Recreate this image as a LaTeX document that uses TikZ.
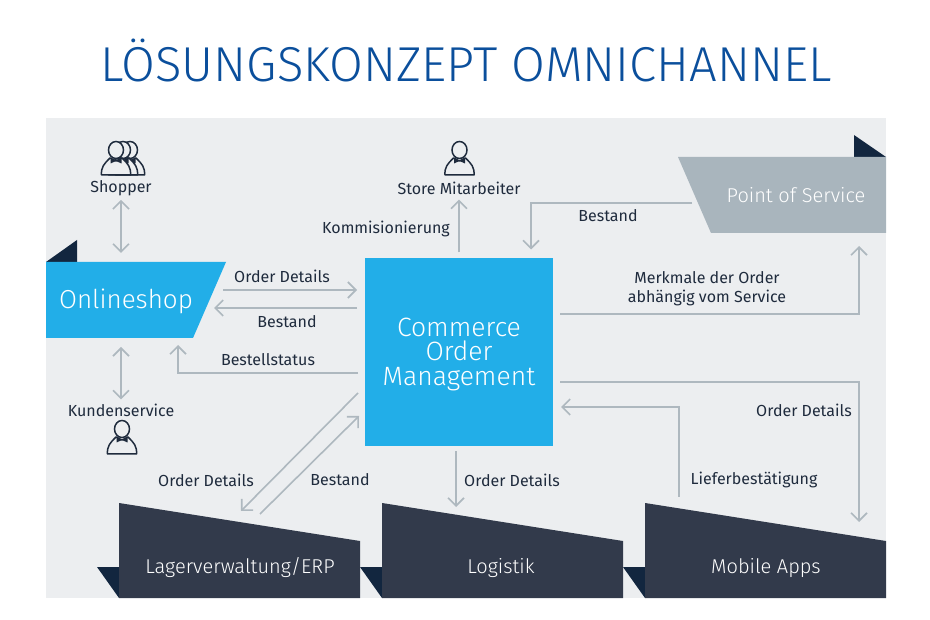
\documentclass[tikz,border=0pt]{standalone}
\usepackage{fontspec}
\setmainfont{Fira Sans}
\newfontfamily\lightfont{Fira Sans Light}
\usetikzlibrary{arrows.meta}
\definecolor{panel}{HTML}{ECEEF0}
\definecolor{titleblue}{HTML}{0B4F9C}
\definecolor{shopblue}{HTML}{22AEE8}
\definecolor{slate}{HTML}{323A4B}
\definecolor{steel}{HTML}{A9B5BD}
\definecolor{tailnavy}{HTML}{12263F}
\definecolor{linegrey}{HTML}{AEB8BF}
\definecolor{inktext}{HTML}{1F2B3D}
\tikzstyle{box} = [rectangle, inner sep=0pt, outer sep=0pt]
\tikzstyle{boxtext} = [text=white, inner sep=0pt, align=center]
\tikzstyle{lbl} = [text=inktext, inner sep=0pt, align=center, font=\fontsize{16}{19}\selectfont]
\tikzstyle{tail} = [fill=tailnavy]
\tikzstyle{arrow} = [draw=linegrey, line width=1.6pt, ->, >={Straight Barb[length=8pt,width=16pt]}]
\tikzstyle{biarrow} = [arrow, <->]
\tikzset{
  person/.pic={
    \draw [inktext, line width=1.5pt, fill=panel] (0,0) ellipse (7.5 and 8.5);
    \draw [inktext, line width=1.5pt, fill=panel, line join=round]
      (-14.5,25) .. controls (-15,17) and (-12,14) .. (-6,8)
      -- (0,11) -- (6,8) .. controls (12,14) and (15,17) .. (14.5,25) -- cycle;
    \fill [inktext] (0,11) -- (-5.5,7.5) -- (-5.5,13.5) -- cycle (0,11) -- (5.5,7.5) -- (5.5,13.5) -- cycle;
  }
}
\begin{document}
\begin{tikzpicture}[x=1pt, y=-1pt]
  \useasboundingbox (0,0) rectangle (930,620);
  \fill [panel] (46,118) rectangle (886,598);
  \node (title) at (466,61) [text=titleblue, inner sep=0pt, font=\lightfont\fontsize{49}{52}\selectfont] {LÖSUNGSKONZEPT OMNICHANNEL};

  \node (online) at (136,300) [box, minimum width=180pt, minimum height=76pt] {};
  \node (com) at (459,352.5) [box, minimum size=188pt, fill=shopblue] {};
  \node (pos) at (782,195) [box, minimum width=208pt, minimum height=76pt] {};
  \node (lager) at (239.5,550.5) [box, minimum width=241pt, minimum height=95pt] {};
  \node (logistik) at (502.5,550.5) [box, minimum width=241pt, minimum height=95pt] {};
  \node (mobile) at (765.5,550.5) [box, minimum width=241pt, minimum height=95pt] {};

  \fill [tail] (online.north west) -- ++(31,-22) -- ++(0,22) -- cycle;
  \fill [tail] (pos.north east) -- ++(-32,-22) -- ++(0,22) -- cycle;
  \fill [tail] (lager.south west) -- ++(-22,-31) -- ++(22,0) -- cycle;
  \fill [tail] (logistik.south west) -- ++(-22,-31) -- ++(22,0) -- cycle;
  \fill [tail] (mobile.south west) -- ++(-22,-31) -- ++(22,0) -- cycle;

  \fill [shopblue] (online.north west) -- (online.north east) -- ([xshift=-33pt]online.south east) -- (online.south west) -- cycle;
  \fill [steel] (pos.north west) -- (pos.north east) -- (pos.south east) -- ([xshift=33pt]pos.south west) -- cycle;
  \fill [slate] (lager.north west) -- ([yshift=-38pt]lager.north east) -- (lager.south east) -- (lager.south west) -- cycle;
  \fill [slate] (logistik.north west) -- ([yshift=-38pt]logistik.north east) -- (logistik.south east) -- (logistik.south west) -- cycle;
  \fill [slate] (mobile.north west) -- ([yshift=-38pt]mobile.north east) -- (mobile.south east) -- (mobile.south west) -- cycle;

  \node (onlinetext) at (126,301) [boxtext, font=\lightfont\fontsize{26}{30}\selectfont] {Onlineshop};
  \node (comtext) at (459,354) [boxtext, font=\lightfont\fontsize{26.5}{24.5}\selectfont] {Commerce\\Order\\Management};
  \node (postext) at (796,195) [boxtext, font=\lightfont\fontsize{20}{24}\selectfont] {Point of Service};
  \node (lagertext) at (240,568) [boxtext, font=\lightfont\fontsize{20}{22}\selectfont] {Lagerverwaltung/ERP};
  \node (logistiktext) at (501,568) [boxtext, font=\lightfont\fontsize{20}{22}\selectfont] {Logistik};
  \node (mobiletext) at (766,568) [boxtext, font=\lightfont\fontsize{20}{22}\selectfont] {Mobile Apps};

  \node (shopper) at (121,188) [lbl] {Shopper};
  \node (kunden) at (121,410) [lbl] {Kundenservice};
  \node (store) at (459,188) [lbl] {Store Mitarbeiter};
  \node (komm) at (386,229) [lbl] {Kommisionierung};
  \node (bestpos) at (608,216) [lbl] {Bestand};
  \node (odshop) at (282,276) [lbl] {Order Details};
  \node (bestshop) at (287,322) [lbl] {Bestand};
  \node (status) at (268,360) [lbl] {Bestellstatus};
  \node (merkmale) at (707,288.5) [lbl] {Merkmale der Order\\abhängig vom Service};
  \node (odmobile) at (804,410) [lbl] {Order Details};
  \node (liefer) at (754,480) [lbl] {Lieferbestätigung};
  \node (odlog) at (512,480) [lbl] {Order Details};
  \node (odlager) at (206,480) [lbl] {Order Details};
  \node (bestlager) at (340,480) [lbl] {Bestand};

  \pic at (130,150) {person};
  \pic at (123,150) {person};
  \pic at (116,150) {person};
  \pic at (459.5,150) {person};
  \pic at (122,429) {person};

  \draw [biarrow, shorten <=4pt, shorten >=9pt] (shopper.south) -- (shopper.south |- online.north);
  \draw [biarrow, shorten <=4pt, shorten >=9pt] (kunden.north) -- (kunden.north |- online.south);
  \draw [arrow] ([xshift=-3pt,yshift=10pt]online.east) -- ([xshift=-8pt,yshift=62.5pt]com.west);
  \draw [arrow] ([xshift=-8pt,yshift=44.5pt]com.west) -- ([xshift=-12pt,yshift=-8pt]online.east);
  \draw [arrow] ([xshift=-7pt,yshift=-20.5pt]com.west) -| ([xshift=42pt,yshift=-7pt]online.south);
  \draw [arrow, shorten <=6pt, shorten >=5pt] (com.north) -- (store.south);
  \draw [arrow] ([xshift=14pt,yshift=-8pt]pos.west) -| ([xshift=72pt,yshift=9pt]com.north);
  \draw [arrow] ([xshift=7pt,yshift=38.5pt]com.east) -| ([xshift=77pt,yshift=-13pt]pos.south);
  \draw [arrow] ([xshift=7pt,yshift=-29.5pt]com.east) -| ([xshift=93.5pt,yshift=-19pt]mobile.north);
  \draw [arrow] ([xshift=-86.5pt,yshift=6pt]mobile.north) |- ([xshift=8pt,yshift=-54.5pt]com.east);
  \draw [arrow] ([xshift=-3pt,yshift=-5pt]com.south) -- ([xshift=-46.5pt,yshift=-4pt]logistik.north);
  \draw [arrow] ([xshift=-7pt,yshift=-40.5pt]com.west) -- ([xshift=1.5pt,yshift=-8pt]lager.north);
  \draw [arrow] ([xshift=20.5pt,yshift=-11pt]lager.north) -- ([xshift=-6pt,yshift=-63.5pt]com.west);
\end{tikzpicture}
\end{document}
